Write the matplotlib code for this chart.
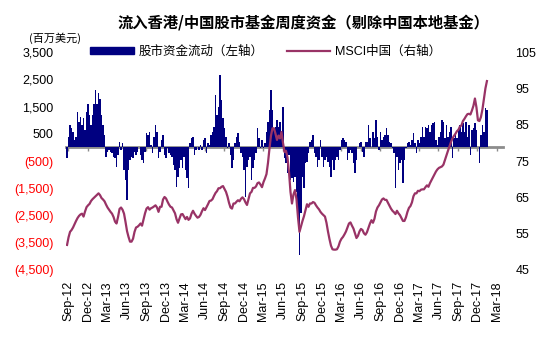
import numpy as np
import matplotlib.pyplot as plt
from matplotlib.patches import Patch
from matplotlib.lines import Line2D

plt.rcParams['font.family'] = ['Liberation Sans', 'Noto Sans CJK SC']

# quarterly labels on the x axis
tick_labels = ["Sep-12", "Dec-12", "Mar-13", "Jun-13", "Sep-13", "Dec-13",
               "Mar-14", "Jun-14", "Sep-14", "Dec-14", "Mar-15", "Jun-15",
               "Sep-15", "Dec-15", "Mar-16", "Jun-16", "Sep-16", "Dec-16",
               "Mar-17", "Jun-17", "Sep-17", "Dec-17", "Mar-18"]

# weekly fund flows, USD mn (left axis)
flows = [
    -400, 390, 820, 700, 570, 270, 390, 1310, 940, 1120,
    820, 1060, 630, 1310, 1610, 1180, 820, 1180, 1610, 2100,
    1610, 1980, 1790, 1180, 820, 450, -340, -160, -100, -160,
    -220, -340, -400, -710, -280, 210, -100, 150, -830, -1200,
    -1930, -830, -460, -340, -400, -160, -280, -160, 20, -280,
    -460, -590, -160, 510, 450, 570, 90, -220, 390, 820,
    570, -400, -160, 270, 450, -280, -400, -40, -220, -280,
    -340, -650, -830, -1440, -1070, -770, -460, -770, -340, -830,
    -1130, -1500, 150, 330, 370, -280, -100, 20, -100, 90,
    -100, 270, 330, -220, 150, 90, 450, 570, 760, 1920,
    1180, 1490, 2650, 1730, 1060, 700, 390, -40, 150, -280,
    -770, -460, 150, 390, 510, 210, -220, -340, -830, -1810,
    -710, -460, -340, -1200, -770, -460, -220, 700, 330, -40,
    270, -40, 150, 570, 940, 1370, 2100, 1370, 700, 760,
    1000, 760, 940, 390, 1490, -400, -590, -950, -280, -1200,
    -1130, -1260, -1070, -1620, -2540, -3950, -2420, -1070, -1500, -590,
    -520, -220, 210, 270, 450, -220, -340, -710, -460, 270,
    -340, -710, -460, -340, -520, -710, -1070, -460, -830, -460,
    -340, -460, -100, 270, 330, 270, 210, -460, -220, -100,
    -220, -590, -950, -460, 20, 150, 210, -160, -340, 210,
    210, 820, 330, 20, 570, 330, 1000, 390, -100, 570,
    270, 390, 450, 700, 450, 210, 150, -40, -220, -1500,
    -340, -830, -590, -460, -1320, -460, -40, 150, 210, 90,
    270, 510, 150, -220, 270, 150, 390, 760, 390, 760,
    700, 820, 570, 820, 880, 940, 270, 90, 390, 570,
    1000, 940, 330, 820, 390, 570, 760, -400, 330, 510,
    330, 630, 820, 570, 880, 570, 940, 390, 820, -280,
    630, 700, 880, 630, 20, -590, 450, 820, 570, 1430,
    1370,
]

# MSCI China index level (right axis)
msci = [
    51.9, 54.0, 55.5, 56.0, 56.7, 57.6, 58.5, 59.3, 59.9, 60.3, 60.5, 59.7, 61.1,
    62.3, 62.8, 63.2, 64.0, 64.5, 64.9, 65.3, 65.7, 66.1, 65.6, 64.8, 64.4, 63.9,
    63.0, 62.2, 61.6, 61.0, 60.5, 59.6, 58.3, 57.8, 59.6, 61.8, 62.2, 61.6, 60.5,
    58.2, 55.7, 54.1, 52.8, 52.8, 53.6, 55.5, 56.7, 56.9, 57.3, 57.8, 57.2, 58.9,
    60.6, 61.9, 62.3, 61.6, 62.0, 62.2, 62.5, 62.8, 62.2, 61.0, 62.4, 62.4, 64.4,
    65.1, 64.7, 63.8, 63.0, 62.4, 62.2, 61.4, 60.6, 59.0, 58.0, 59.2, 60.3, 60.4,
    59.7, 59.0, 59.6, 58.8, 59.2, 60.5, 61.3, 60.5, 59.9, 59.4, 59.6, 60.2, 61.2,
    62.0, 61.5, 62.3, 63.1, 64.0, 64.1, 64.5, 65.4, 66.2, 66.7, 67.5, 67.5, 67.9,
    68.1, 67.3, 66.5, 65.2, 63.5, 62.2, 61.9, 63.3, 63.3, 63.8, 64.2, 63.9, 64.6,
    65.0, 64.5, 63.6, 62.9, 64.5, 66.1, 66.5, 67.6, 67.6, 68.0, 68.9, 69.1, 68.5,
    67.8, 69.2, 70.2, 71.4, 74.5, 78.5, 82.0, 84.0, 84.0, 82.5, 80.8, 82.0, 81.2,
    83.0, 80.0, 77.5, 77.8, 76.0, 72.0, 66.5, 63.3, 65.8, 67.0, 64.5, 59.5, 55.5,
    57.0, 58.5, 59.8, 61.5, 63.1, 62.4, 63.3, 63.3, 63.7, 63.5, 62.8, 62.2, 61.7,
    61.0, 60.5, 60.1, 59.7, 58.0, 55.6, 53.5, 51.7, 50.7, 50.6, 50.6, 50.7, 51.5,
    52.8, 53.6, 54.1, 54.8, 55.6, 56.7, 57.8, 58.1, 57.2, 56.4, 55.1, 53.8, 54.4,
    55.6, 56.3, 56.0, 55.1, 54.7, 55.4, 56.6, 57.8, 58.7, 58.0, 59.1, 61.1, 62.2,
    62.8, 63.6, 64.4, 64.7, 64.3, 64.3, 63.5, 62.7, 61.9, 61.3, 60.9, 60.4, 61.3,
    60.6, 60.1, 59.3, 58.5, 58.5, 59.5, 61.0, 62.1, 62.6, 63.6, 65.3, 66.1, 66.1,
    66.8, 66.7, 67.1, 67.2, 67.2, 67.8, 68.3, 67.9, 68.9, 69.7, 70.5, 71.3, 72.1,
    72.7, 73.1, 73.3, 73.5, 74.0, 75.3, 76.6, 77.8, 79.0, 80.2, 81.2, 81.9, 82.5,
    83.2, 83.6, 84.5, 84.8, 86.0, 86.6, 87.3, 87.9, 88.0, 87.8, 88.9, 90.2, 92.2,
    89.8, 86.2, 86.0, 87.1, 89.2, 92.0, 95.0, 97.0,
]

left_ticks = [-4500, -3500, -2500, -1500, -500, 500, 1500, 2500, 3500]
right_ticks = [45, 55, 65, 75, 85, 95, 105]

NAVY = '#000080'
PLUM = '#993366'
GRAY = '#8c8c8c'

weeks = np.arange(len(flows))
qpos = np.arange(len(tick_labels)) * 13 + 0.7

fig = plt.figure(figsize=(5.5, 3.51), dpi=100)
ax = fig.add_axes([0.12, 0.2308, 0.7945, 0.621])
ax.bar(weeks, flows, width=0.9, color=NAVY, linewidth=0)
ax.set_ylim(-4500, 3500)
ax.set_xlim(-0.7, 290.7)
ax.set_yticks(left_ticks)
ax.set_yticklabels([f"{v:,}" if v > 0 else f"({-v:,})" for v in left_ticks])
for lab, v in zip(ax.get_yticklabels(), left_ticks):
    lab.set_color('#ff0000' if v < 0 else 'black')
ax.tick_params(axis='y', length=0, pad=9, labelsize=9)
ax.set_xticks(qpos)
ax.set_xticklabels(tick_labels, rotation=90)
ax.tick_params(axis='x', length=0, pad=8, labelsize=9)
for s in ax.spines.values():
    s.set_visible(False)

# gray zero line with tick marks
zero = ax.secondary_xaxis(4500 / 8000)
zero.set_alignment('bottom')
zero.set_xticks(qpos)
zero.tick_params(axis='x', length=3, width=1, color=GRAY, direction='out',
                 labelbottom=False, labeltop=False)
zero.spines['bottom'].set_color(GRAY)
zero.spines['bottom'].set_linewidth(2)

ax2 = ax.twinx()
ax2.plot(weeks, msci, color=PLUM, lw=1.6)
ax2.set_ylim(45, 105)
ax2.set_yticks(right_ticks)
ax2.tick_params(axis='y', length=0, pad=9, labelsize=9)
for s in ax2.spines.values():
    s.set_visible(False)

fig.text(0.551, 0.937, "流入香港/中国股市基金周度资金（剔除中国本地基金）",
         ha='center', va='center', fontsize=11, fontweight='bold',
         family=['Noto Sans CJK SC'])
fig.text(0.1, 0.89, "(百万美元)", ha='center', va='center', fontsize=8,
         family=['Noto Sans CJK SC'])

handles = [Patch(facecolor=NAVY, edgecolor=NAVY),
           Line2D([], [], color=PLUM, lw=1.6)]
fig.legend(handles, ["股市资金流动（左轴）", "MSCI中国（右轴）"],
           loc='center left', bbox_to_anchor=(0.155, 0.852), ncol=2,
           frameon=False, fontsize=9, handlelength=3.5, handleheight=0.45,
           handletextpad=0.4, columnspacing=1.8, borderaxespad=0)

fig.savefig("out.png", dpi=100)
